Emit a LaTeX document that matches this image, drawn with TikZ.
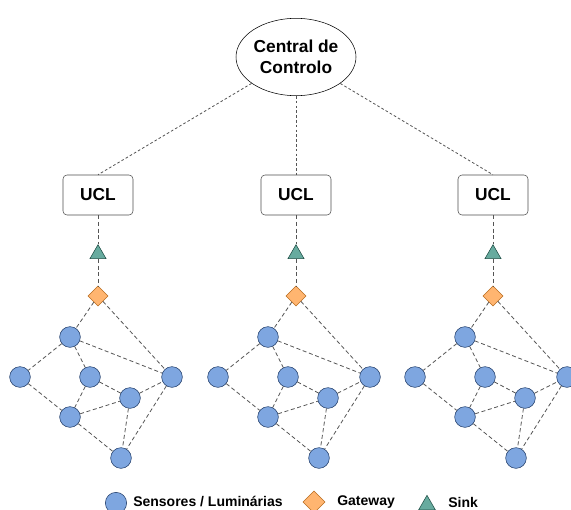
\documentclass[tikz,border=0pt]{standalone}
\usepackage{fontspec}
\setmainfont{Liberation Sans}
\usetikzlibrary{shapes.geometric}

\definecolor{sensorfill}{HTML}{7EA6E0}
\definecolor{sensorline}{HTML}{1F3A66}
\definecolor{gatefill}{HTML}{FFB570}
\definecolor{gateline}{HTML}{B86A1B}
\definecolor{sinkfill}{HTML}{67AB9F}
\definecolor{sinkline}{HTML}{1D4D44}
\definecolor{linkgray}{HTML}{555555}

\begin{document}
\begin{tikzpicture}[x=0.75pt,y=-0.75pt,
	link/.style={dash pattern=on 3pt off 2pt,linkgray,line width=0.6pt},
	uplink/.style={dash pattern=on 2pt off 1.6pt,linkgray,line width=0.6pt},
	sensor/.style={circle,draw=sensorline,fill=sensorfill,minimum size=15.5pt,inner sep=0pt},
	gate/.style={diamond,draw=gateline,fill=gatefill,minimum size=15pt,inner sep=0pt},
	sinknode/.style={regular polygon,regular polygon sides=3,draw=sinkline,fill=sinkfill,minimum size=14pt,inner sep=0pt},
	ucl/.style={draw=gray!60!black,rounded corners=3pt,minimum width=52.5pt,minimum height=30pt,font=\fontsize{13}{15}\selectfont\bfseries},
	keytext/.style={anchor=west,inner sep=0pt,font=\fontsize{10.5}{12}\selectfont\bfseries}]
	\useasboundingbox (0,0) rectangle (571,510);
	\node[ellipse,draw,minimum width=90pt,minimum height=58pt,inner sep=0pt,align=center,font=\fontsize{13}{16}\selectfont\bfseries] (central) at (296,57) {Central de\\Controlo};
	\foreach \k/\dx in {a/0,b/198,c/395}{
		\node[ucl] (u\k) at (98+\dx,195) {UCL};
		\node[sinknode] (t\k) at (98+\dx,254) {};
		\node[gate] (g\k) at (98+\dx,296) {};
		\node[sensor] (\k1) at (70+\dx,337) {};
		\node[sensor] (\k2) at (20+\dx,377) {};
		\node[sensor] (\k3) at (90+\dx,377) {};
		\node[sensor] (\k4) at (172+\dx,377) {};
		\node[sensor] (\k5) at (130+\dx,398) {};
		\node[sensor] (\k6) at (70+\dx,417) {};
		\node[sensor] (\k7) at (121+\dx,458) {};
		\draw[uplink] (central) -- (u\k.north);
		\draw[link] (u\k) -- (t\k);
		\draw[link] (t\k) -- (g\k);
		\draw[link] (g\k) -- (\k1);
		\draw[link] (g\k) -- (\k4);
		\draw[link] (\k1) -- (\k2);
		\draw[link] (\k1) -- (\k3);
		\draw[link] (\k1) -- (\k4);
		\draw[link] (\k2) -- (\k6);
		\draw[link] (\k3) -- (\k5);
		\draw[link] (\k3) -- (\k6);
		\draw[link] (\k5) -- (\k4);
		\draw[link] (\k6) -- (\k5);
		\draw[link] (\k6) -- (\k7);
		\draw[link] (\k5) -- (\k7);
		\draw[link] (\k4) -- (\k7);
	}
	\node[sensor,minimum size=16pt] (keysensor) at (116,503) {};
	\node[keytext] (keysensortext) at (133,502) {Sensores / Luminárias};
	\node[gate,minimum size=16.5pt] (keygate) at (314,502) {};
	\node[keytext] (keygatetext) at (337,502) {Gateway};
	\node[sinknode,minimum size=14.5pt] (keysink) at (427,505) {};
	\node[keytext] (keysinktext) at (448,502) {Sink};
\end{tikzpicture}
\end{document}
